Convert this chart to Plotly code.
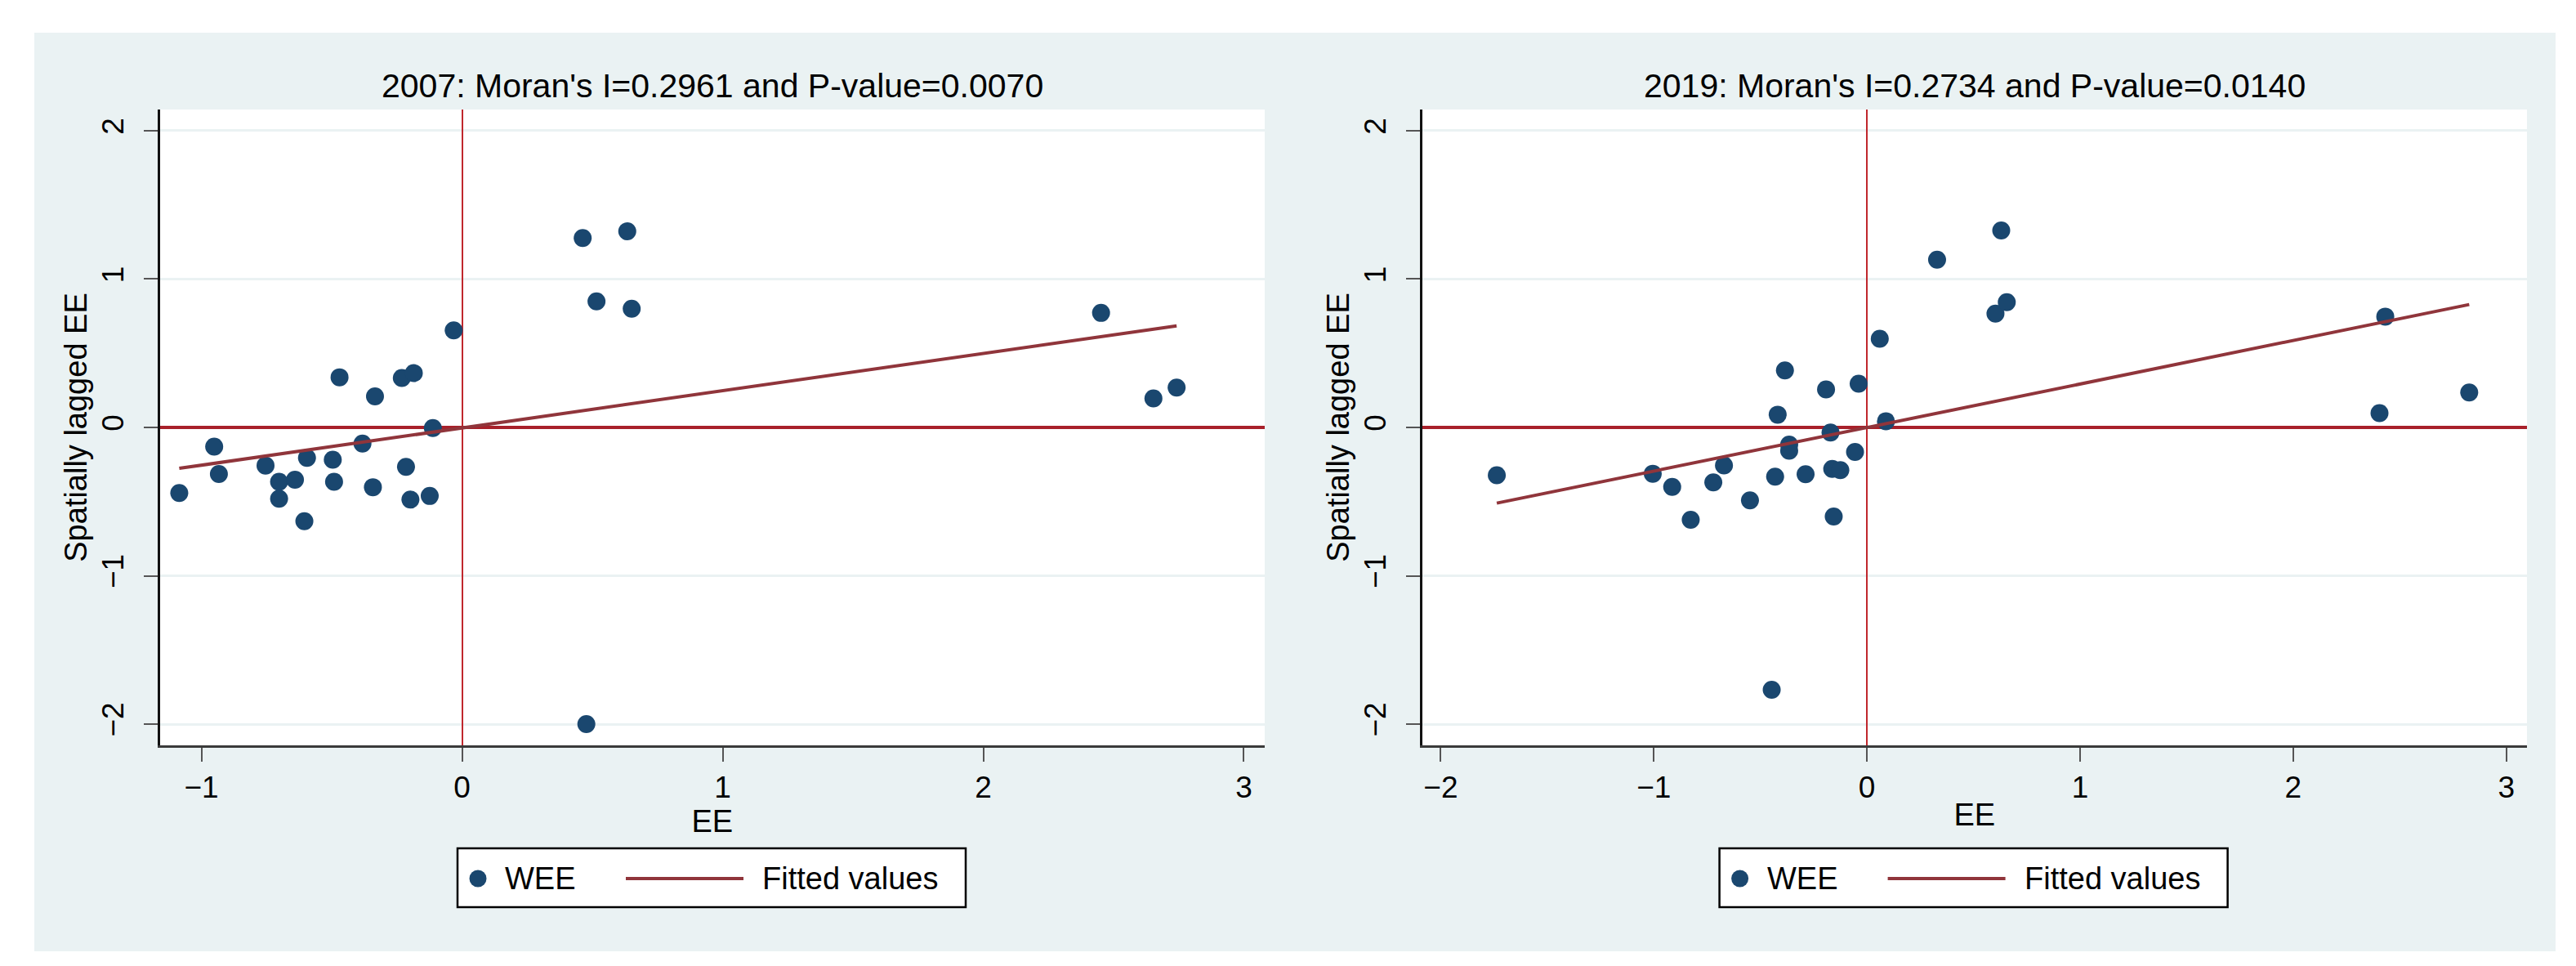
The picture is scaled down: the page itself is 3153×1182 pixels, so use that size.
import numpy as np
import plotly.graph_objects as go

# ---------------- data ----------------
ee_2007 = [-1.085, -0.951, -0.933, -0.754, -0.702, -0.702, -0.641, -0.605, -0.595, -0.496,
           -0.491, -0.470, -0.382, -0.342, -0.334, -0.231, -0.185, -0.215, -0.198, -0.124,
           -0.112, -0.032, 0.463, 0.634, 0.516, 0.651, 0.477, 2.452, 2.653, 2.742]
wee_2007 = [-0.442, -0.129, -0.314, -0.257, -0.366, -0.481, -0.353, -0.632, -0.205, -0.218,
            -0.366, 0.338, -0.109, -0.403, 0.209, 0.333, 0.366, -0.266, -0.486, -0.462,
            -0.004, 0.654, 1.277, 1.322, 0.850, 0.800, -2.000, 0.772, 0.196, 0.269]

ee_2019 = [-1.737, -1.005, -0.914, -0.827, -0.721, -0.671, -0.549, -0.447, -0.431, -0.419,
           -0.385, -0.365, -0.365, -0.288, -0.192, -0.171, -0.163, -0.125, -0.156, -0.056,
           -0.039, 0.060, 0.089, 0.329, 0.630, 0.603, 0.656, 2.432, 2.405, 2.826]
wee_2019 = [-0.322, -0.312, -0.401, -0.622, -0.371, -0.256, -0.492, -1.768, -0.332, 0.086,
            0.384, -0.116, -0.157, -0.315, 0.256, -0.034, -0.280, -0.288, -0.600, -0.165,
            0.295, 0.598, 0.042, 1.131, 1.328, 0.767, 0.844, 0.747, 0.096, 0.236]

panel_titles = ["2007: Moran's I=0.2961 and P-value=0.0070",
                "2019: Moran's I=0.2734 and P-value=0.0140"]
x_ticks_2007 = [-1, 0, 1, 2, 3]
x_ticks_2019 = [-2, -1, 0, 1, 2, 3]
y_ticks = [-2, -1, 0, 1, 2]
x_title = "EE"
y_title = "Spatially lagged EE"
legend_labels = ["WEE", "Fitted values"]

# ---------------- styling ----------------
W, H = 3153, 1182
FONT = "Liberation Sans, Arial, Helvetica, sans-serif"
NAVY = "#1a476f"
MAROON = "#90353b"
BG = "#eaf2f3"


def px(x):
    return x / W


def py(y):
    return 1 - y / H


def fit_line(x, y):
    slope, intercept = np.polyfit(np.asarray(x), np.asarray(y), 1)
    xs = np.array([min(x), max(x)])
    return xs, intercept + slope * xs


fig = go.Figure()

for i, (xv, yv) in enumerate([(ee_2007, wee_2007), (ee_2019, wee_2019)]):
    xa = "x" if i == 0 else "x2"
    ya = "y" if i == 0 else "y2"
    fig.add_trace(go.Scatter(x=xv, y=yv, mode="markers", name=legend_labels[0],
                             marker=dict(color=NAVY, size=22, line=dict(width=0)),
                             xaxis=xa, yaxis=ya, showlegend=False))
    fx, fy = fit_line(xv, yv)
    fig.add_trace(go.Scatter(x=fx, y=fy, mode="lines", name=legend_labels[1],
                             line=dict(color=MAROON, width=4),
                             xaxis=xa, yaxis=ya, showlegend=False))

plot_y = [py(904), py(126)]
x_domains = [[px(187.5), px(1540)], [px(1732.5), px(3085)]]
x_ranges = [[-1.16, 3.08], [-2.088, 3.097]]
x_ticks = [x_ticks_2007, x_ticks_2019]

tickfont = dict(family=FONT, size=37, color="#000000")

for i in range(2):
    sfx = "" if i == 0 else "2"
    fig.layout["xaxis" + sfx] = dict(
        domain=x_domains[i], range=x_ranges[i], anchor="y" + sfx,
        tickmode="array", tickvals=x_ticks[i],
        showgrid=False, zeroline=True, zerolinecolor="#c0272d", zerolinewidth=2,
        showline=True, linecolor="#3a3a3a", linewidth=3,
        ticks="outside", ticklen=17, tickwidth=2, tickcolor="#555555",
        tickfont=tickfont,
        title=dict(text=x_title, font=dict(family=FONT, size=38, color="#000000"), standoff=0),
        automargin=False, fixedrange=True,
    )
    fig.layout["yaxis" + sfx] = dict(
        domain=plot_y, range=[-2.143, 2.143], anchor="x" + sfx,
        tickmode="array", tickvals=y_ticks, tickangle=-90,
        showgrid=True, gridcolor=BG, gridwidth=3,
        zeroline=True, zerolinecolor="#a8202a", zerolinewidth=4,
        showline=True, linecolor="#111111", linewidth=2.5,
        ticks="outside", ticklen=17, tickwidth=2, tickcolor="#555555",
        tickfont=tickfont, ticklabelstandoff=10,
        title=dict(text=y_title, font=dict(family=FONT, size=38, color="#000000"), standoff=0),
        automargin=False, fixedrange=True,
    )

shapes = []
# white frame outside the grey graph region
for (x0, y0, x1, y1) in [(0, 0, 34, H), (3120, 0, W, H), (0, 0, W, 32), (0, 1156, W, H)]:
    shapes.append(dict(type="rect", xref="paper", yref="paper", layer="below",
                       x0=px(x0), x1=px(x1), y0=py(y1), y1=py(y0),
                       fillcolor="#ffffff", line=dict(width=0)))

annotations = []
title_cx = [(187.5 + 1540) / 2, (1732.5 + 3085) / 2]
for i in range(2):
    annotations.append(dict(text=panel_titles[i], xref="paper", yref="paper",
                            x=px(title_cx[i]), y=py(97), xanchor="center", yanchor="middle",
                            showarrow=False, font=dict(family=FONT, size=41, color="#000000")))

# legends (one per panel)
for off in [0, 1544.6]:
    bx0, bx1, by0, by1 = 552 + off, 1174 + off, 1030, 1102
    cy = 1067
    shapes.append(dict(type="rect", xref="paper", yref="paper",
                       x0=px(bx0), x1=px(bx1), y0=py(by1), y1=py(by0),
                       fillcolor="#ffffff", line=dict(color="#000000", width=2.5)))
    cx = 577 + off
    shapes.append(dict(type="circle", xref="paper", yref="paper",
                       x0=px(cx - 10.5), x1=px(cx + 10.5), y0=py(cy + 10.5), y1=py(cy - 10.5),
                       fillcolor=NAVY, line=dict(width=0)))
    shapes.append(dict(type="line", xref="paper", yref="paper",
                       x0=px(758 + off), x1=px(902 + off), y0=py(cy), y1=py(cy),
                       line=dict(color=MAROON, width=4)))
    annotations.append(dict(text=legend_labels[0], xref="paper", yref="paper",
                            x=px(608 + off), y=py(cy), xanchor="left", yanchor="middle",
                            showarrow=False, font=dict(family=FONT, size=38, color="#000000")))
    annotations.append(dict(text=legend_labels[1], xref="paper", yref="paper",
                            x=px(923 + off), y=py(cy), xanchor="left", yanchor="middle",
                            showarrow=False, font=dict(family=FONT, size=38, color="#000000")))

fig.update_layout(
    width=W, height=H,
    margin=dict(l=0, r=0, t=0, b=0, pad=0),
    paper_bgcolor=BG, plot_bgcolor="#ffffff",
    showlegend=False,
    font=dict(family=FONT, color="#000000"),
    shapes=shapes, annotations=annotations,
)

fig.write_html("out.html")
